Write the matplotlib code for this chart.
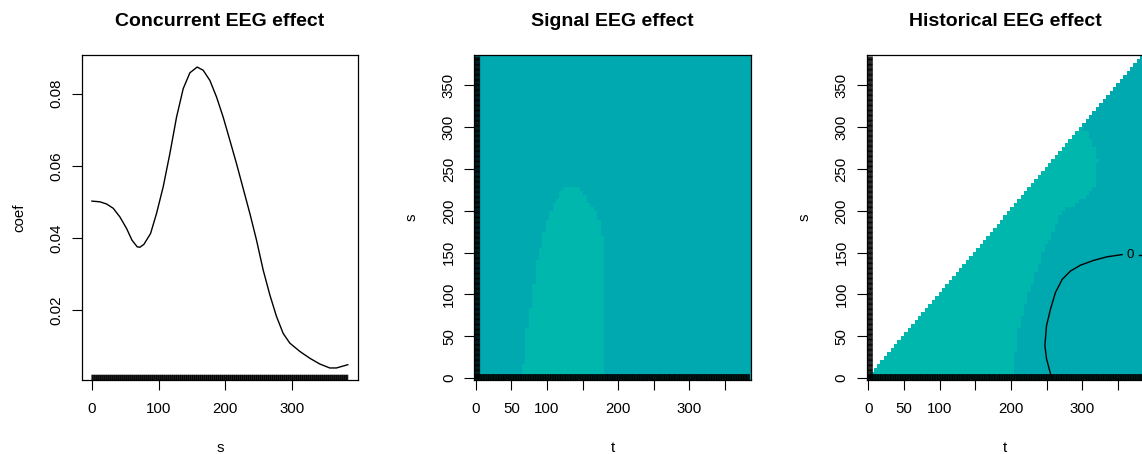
import matplotlib.pyplot as plt
import matplotlib.transforms as mtransforms
import numpy as np
from matplotlib.colors import ListedColormap
from matplotlib.path import Path

plt.rcParams['font.family'] = ['Liberation Sans', 'DejaVu Sans']

# concurrent EEG effect, coefficient curve over s
s_pts = [0, 12, 22, 32, 42, 52, 60, 68, 72, 78, 88, 97, 107, 117, 127, 137,
         147, 158, 167, 177, 187, 197, 207, 217, 227, 237, 247, 257, 267, 277,
         287, 297, 312, 327, 342, 357, 367, 384]
coef_pts = [0.0502, 0.0500, 0.0494, 0.0482, 0.0458, 0.0426, 0.0394, 0.0375,
            0.0374, 0.0382, 0.0412, 0.0468, 0.0542, 0.0634, 0.0735, 0.0814,
            0.0858, 0.0874, 0.0865, 0.0837, 0.0791, 0.0735, 0.0671, 0.0606,
            0.0537, 0.0468, 0.0394, 0.0311, 0.0242, 0.0182, 0.0135, 0.0108,
            0.0085, 0.0066, 0.0050, 0.0039, 0.0039, 0.0048]

# sampling points of the EEG signal (shown as rugs)
s_obs = np.arange(0, 385)

# evaluation grid of the surface plots
grid = np.linspace(0, 384, 81)
half = (grid[1] - grid[0]) / 2

# outline of the upper level set, signal effect (t, s)
sig_t = [66.8, 66.8, 70.6, 75, 80, 84.6, 90, 95, 99.6, 104, 110, 114.5, 120.7,
         146.4, 158, 167.4, 172, 176.8, 181.5, 181.5, 181.5]
sig_s = [-10, 11, 50.7, 74.5, 102, 134, 152, 172, 187.6, 197.6, 206, 211, 226,
         226, 211, 201.5, 191.6, 175.7, 154, 11, -10]

# outline of the upper level set, historical effect (t, s)
hist_t = [-10, 202, 202, 206.6, 212, 216, 222, 226.6, 232, 237, 241.6, 251, 260,
          265, 270, 288, 300, 309, 316, 319, 322, 318, 313, 308, 298]
hist_s = [-10, -10, 0, 35, 63, 75, 90, 106, 118, 130, 142, 162, 174, 186, 198,
          206, 214, 221, 227, 237, 261, 273, 281, 293, 298]

# zero contour of the historical effect, split around its label
zero_t = [258, 255.6, 250, 247.7, 250, 255.6, 262.6, 272, 283.7, 297.7, 316.4,
          335, 356]
zero_s = [0, 5, 23, 38.8, 62.6, 82.5, 102.4, 118, 128, 135, 140.8, 145, 147.6]
zero_t2 = [380, 392]
zero_s2 = [147.5, 147.5]
zero_lab_t, zero_lab_s = 367.8, 147

teal = ListedColormap(['#00A9AF', '#00B7AE'])

W, H = 1142, 454
fig = plt.figure(figsize=(W / 100, H / 100), dpi=100)


def style_axes(ax, title, xlabel, ylabel):
    ax.set_title(title, fontsize=14, fontweight='bold', pad=21)
    ax.tick_params(direction='out', length=7, width=0.8, labelsize=10.8,
                   color='black')
    ax.tick_params(axis='x', pad=8.5)
    ax.tick_params(axis='y', pad=6, labelrotation=90)
    for lab in ax.get_yticklabels():
        lab.set_va('center')
    for sp in ax.spines.values():
        sp.set_linewidth(0.9)
        sp.set_color('black')
    ax.set_xlabel(xlabel, fontsize=10.8)
    ax.set_ylabel(ylabel, fontsize=10.8)
    ax.xaxis.set_label_coords(0.5, -0.188)
    ax.yaxis.set_label_coords(-0.2, 0.5)


def rug(ax, vals, side, size):
    if side == 'bottom':
        tr = mtransforms.blended_transform_factory(ax.transData, ax.transAxes)
        ax.vlines(vals, 0, size, transform=tr, color='black', lw=0.7,
                  snap=False)
    else:
        tr = mtransforms.blended_transform_factory(ax.transAxes, ax.transData)
        ax.hlines(vals, 0, size, transform=tr, color='black', lw=0.7,
                  snap=False)


def level_grid(out_t, out_s):
    tt, ss = np.meshgrid(grid, grid)
    path = Path(np.column_stack([out_t, out_s]))
    inside = path.contains_points(np.column_stack([tt.ravel(), ss.ravel()]))
    return inside.reshape(tt.shape).astype(float), tt, ss


# panel 1: concurrent effect
ax1 = fig.add_axes([81.7 / W, 74 / H, 276.3 / W, 325 / H])
ax1.plot(s_pts, coef_pts, color='black', lw=1.0)
ax1.margins(0.04)
ax1.autoscale_view()
ax1.set_xlim(ax1.get_xlim())
ax1.set_ylim(ax1.get_ylim())
ax1.set_xticks([0, 100, 200, 300])
ax1.set_yticks([0.02, 0.04, 0.06, 0.08])
ax1.set_yticklabels(['0.02', '0.04', '0.06', '0.08'])
rug(ax1, s_obs, 'bottom', 0.016)
style_axes(ax1, 'Concurrent EEG effect', 's', 'coef')

ticks = [0, 50, 100, 150, 200, 250, 300, 350]
xlabels = ['0', '50', '100', '', '200', '', '300', '']
lims = (grid[0] - half, grid[-1] + half)

# panel 2: signal effect surface
ax2 = fig.add_axes([474 / W, 74 / H, 277 / W, 325 / H])
z2, tt, ss = level_grid(sig_t, sig_s)
ax2.pcolormesh(grid, grid, z2, cmap=teal, vmin=0, vmax=1, shading='nearest')
ax2.set_xlim(lims)
ax2.set_ylim(lims)
ax2.set_xticks(ticks)
ax2.set_xticklabels(xlabels)
ax2.set_yticks(ticks)
rug(ax2, s_obs, 'bottom', 0.018)
rug(ax2, s_obs, 'left', 0.022)
style_axes(ax2, 'Signal EEG effect', 't', 's')

# panel 3: historical effect surface, only defined for s <= t
ax3 = fig.add_axes([866.7 / W, 74 / H, 277 / W, 325 / H])
z3, tt, ss = level_grid(hist_t, hist_s)
z3 = np.ma.masked_where(ss > tt, z3)
ax3.pcolormesh(grid, grid, z3, cmap=teal, vmin=0, vmax=1, shading='nearest')
ax3.plot(zero_t, zero_s, color='black', lw=1.0)
ax3.plot(zero_t2, zero_s2, color='black', lw=1.0)
ax3.text(zero_lab_t, zero_lab_s, '0', ha='center', va='center', fontsize=9.5)
ax3.set_xlim(lims)
ax3.set_ylim(lims)
ax3.set_xticks(ticks)
ax3.set_xticklabels(xlabels)
ax3.set_yticks(ticks)
rug(ax3, s_obs, 'bottom', 0.018)
rug(ax3, s_obs, 'left', 0.022)
style_axes(ax3, 'Historical EEG effect', 't', 's')

fig.savefig('out.png', dpi=100)
